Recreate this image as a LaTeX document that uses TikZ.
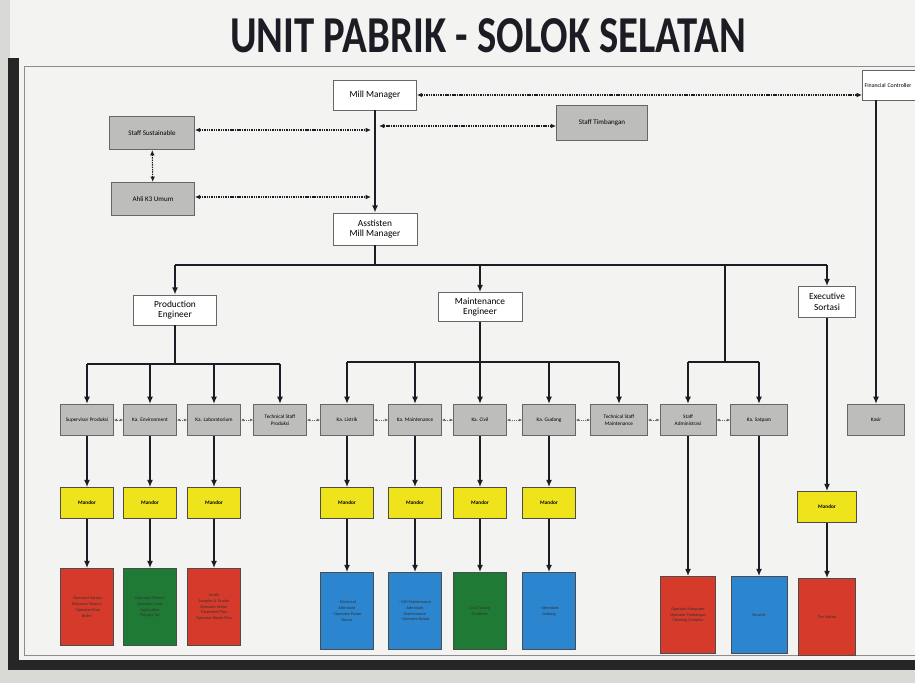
\documentclass[tikz,border=0pt]{standalone}
\usepackage{fontspec}
\setmainfont{Carlito}
\usetikzlibrary{arrows.meta}

\definecolor{wall}{HTML}{D9D9D6}
\definecolor{board}{HTML}{F3F3F1}
\definecolor{boxgray}{HTML}{BDBDBB}
\definecolor{mandor}{HTML}{EFE41C}
\definecolor{merah}{HTML}{D63A2A}
\definecolor{hijau}{HTML}{1F7A35}
\definecolor{biru}{HTML}{2B85CF}
\definecolor{ink}{HTML}{1C1C24}

\tikzset{
    box/.style={draw=black!60, line width=0.6pt, align=center, inner sep=1pt},
    wbox/.style={box, fill=white, minimum width=2.49cm, minimum height=0.9cm,
        font=\fontsize{8}{9}\selectfont},
    tgbox/.style={box, fill=boxgray, minimum width=2.55cm, minimum height=1cm,
        font=\fontsize{6}{7}\selectfont},
    gbox/.style={box, fill=boxgray, minimum width=1.59cm, minimum height=0.94cm,
        font=\fontsize{4.5}{5.5}\selectfont},
    mbox/.style={box, fill=mandor, draw=black!70, minimum width=1.6cm, minimum height=0.93cm,
        font=\fontsize{4.5}{5.5}\selectfont\bfseries},
    cbox/.style={box, fill=#1, draw=black!70, minimum width=1.59cm, minimum height=2.31cm,
        font=\fontsize{3.6}{5}\selectfont, text=black!80},
    ln/.style={line width=1.3pt, ink},
    arr/.style={ln, -{Latex[length=2.2mm, width=1.8mm]}},
    dbl/.style={line width=0.9pt, ink, dash pattern=on 1.2pt off 0.8pt,
        {Latex[length=1.6mm, width=1.4mm]}-{Latex[length=1.6mm, width=1.4mm]}},
    dbls/.style={line width=0.5pt, black!60, dash pattern=on 1pt off 0.8pt,
        {Latex[length=1mm, width=0.9mm]}-{Latex[length=1mm, width=0.9mm]}},
}

\begin{document}
\begin{tikzpicture}[x=0.03cm, y=-0.03cm]
    \useasboundingbox (0, 0) rectangle (915, 683);
    \clip (0, 0) rectangle (915, 683);

    % papan
    \fill[wall] (0, 0) rectangle (915, 683);
    \fill[board] (10, 0) rectangle (915, 662);
    \fill[black!85] (8, 58) rectangle (19, 670);
    \fill[black!85] (8, 660) rectangle (915, 670);
    \draw[black!45, line width=0.5pt] (24, 66) rectangle (930, 655);

    \node[text=ink] (title) at (488, 36)
        {\resizebox{440pt}{29pt}{\bfseries UNIT PABRIK - SOLOK SELATAN}};

    % pimpinan
    \node[wbox] (mm) at (375, 95) {Mill Manager};
    \node[wbox, anchor=west, text width=2.8cm, align=left, inner sep=2pt,
        font=\fontsize{5}{6}\selectfont] (fc) at (862, 85) {Financial Controller};
    \node[tgbox, minimum width=2.73cm, minimum height=1.05cm] (st) at (602, 123) {Staff Timbangan};
    \node[tgbox] (ss) at (152, 133) {Staff Sustainable};
    \node[tgbox, minimum width=2.49cm] (ak) at (153, 199) {Ahli K3 Umum};
    \node[wbox, minimum width=2.52cm, minimum height=0.96cm] (am) at (375, 229)
        {Asstisten\\Mill Manager};

    \coordinate (v1) at (371, 130);
    \coordinate (v2) at (379, 126);
    \coordinate (v3) at (371, 197);

    \draw[arr] (mm) -- (am);
    \draw[dbl] (mm.east) -- (mm.east -| fc.west);
    \draw[dbl] (ss.east |- v1) -- (v1);
    \draw[dbl] (v2) -- (v2 -| st.west);
    \draw[dbl] (ak.east |- v3) -- (v3);
    \draw[dbl] (ss) -- (ak);

    % kepala bagian
    \node[wbox, minimum width=2.49cm] (pe) at (175, 310) {Production\\Engineer};
    \node[wbox, minimum width=2.52cm, minimum height=0.87cm] (me) at (480, 307) {Maintenance\\Engineer};
    \node[wbox, minimum width=1.71cm, minimum height=0.93cm] (es) at (827, 302) {Executive\\Sortasi};

    \coordinate (b0) at (375, 265);
    \coordinate (b3) at (725, 265);
    \draw[ln] (am) -- (b0);
    \draw[ln] (b0 -| pe) -- (b0 -| es);
    \foreach \n in {pe, me, es}
        \draw[arr] (b0 -| \n) -- (\n);

    % baris kepala seksi
    \node[gbox] (sp)   at (87, 420)  {Supervisor Produksi};
    \node[gbox] (ken)  at (150, 420) {Ka. Environment};
    \node[gbox] (klab) at (214, 420) {Ka. Laboratorium};
    \node[gbox] (tsp)  at (280, 420) {Technical Staff\\Produksi};
    \node[gbox] (kl)   at (347, 420) {Ka. Listrik};
    \node[gbox] (kmt)  at (415, 420) {Ka. Maintenance};
    \node[gbox] (kc)   at (480, 420) {Ka. Civil};
    \node[gbox] (kg)   at (549, 420) {Ka. Gudang};
    \node[gbox, minimum width=1.71cm] (tsm) at (619, 420) {Technical Staff\\Maintenance};
    \node[gbox, minimum width=1.68cm] (sa)  at (688, 420) {Staff\\Administrasi};
    \node[gbox, minimum width=1.71cm] (ks)  at (759, 420) {Ka. Satpam};
    \node[gbox, minimum width=1.71cm] (kasir) at (876, 420) {Kasir};

    \foreach \a/\b in {sp/ken, ken/klab, klab/tsp, tsp/kl, kl/kmt, kmt/kc, kc/kg, kg/tsm, tsm/sa, sa/ks}
        \draw[dbls] (\a) -- (\b);

    \coordinate (s1) at (175, 364);
    \coordinate (s2) at (480, 362);
    \coordinate (s3) at (725, 362);

    \draw[ln] (pe) -- (s1);
    \draw[ln] (s1 -| sp) -- (s1 -| tsp);
    \foreach \n in {sp, ken, klab, tsp}
        \draw[arr] (s1 -| \n) -- (\n);

    \draw[ln] (me) -- (s2);
    \draw[ln] (s2 -| kl) -- (s2 -| tsm);
    \foreach \n in {kl, kmt, kc, kg, tsm}
        \draw[arr] (s2 -| \n) -- (\n);

    \draw[ln] (b3) -- (s3);
    \draw[ln] (s3 -| sa) -- (s3 -| ks);
    \foreach \n in {sa, ks}
        \draw[arr] (s3 -| \n) -- (\n);

    \draw[arr] (fc.south -| kasir) -- (kasir);

    % mandor
    \foreach \n in {sp, ken, klab, kl, kmt, kc, kg}
        \node[mbox] (m-\n) at (\n |- 0, 503) {Mandor};
    \node[mbox, minimum width=1.77cm] (m-es) at (827, 507) {Mandor};

    \foreach \n in {sp, ken, klab, kl, kmt, kc, kg, es}
        \draw[arr] (\n) -- (m-\n);

    % pelaksana
    \node[cbox=merah] (c-sp)   at (87, 607)  {- Operator Stasiun\\Rebusan/ Stasiun\\- Operator Kran\\Boiler};
    \node[cbox=hijau] (c-ken)  at (150, 607) {Operator Effluent\\Operator Land\\Application\\Petugas Tps};
    \node[cbox=merah] (c-klab) at (214, 607) {Analis\\Sampler \& Grader\\Operator Water\\Treatment Plan\\Operator Waste Plan};
    \node[cbox=biru]  (c-kl)   at (347, 611) {- Electrical\\Attendant\\- Operator Power\\House};
    \node[cbox=biru]  (c-kmt)  at (415, 611) {- Mill Maintenance\\Attendant\\Maintenance\\- Operator Bubut};
    \node[cbox=hijau] (c-kc)   at (480, 611) {Civil Tukang\\Gardener};
    \node[cbox=biru]  (c-kg)   at (549, 611) {- Attendant\\Gudang};
    \node[cbox=merah, minimum width=1.65cm] (c-sa) at (688, 615) {Operator Komputer\\Operator Timbangan\\Cleaning Complex};
    \node[cbox=biru, minimum width=1.68cm]  (c-ks) at (759, 615) {Security};
    \node[cbox=merah, minimum width=1.71cm] (c-es) at (827, 617) {Tim Sortasi};

    \foreach \n in {sp, ken, klab, kl, kmt, kc, kg, es}
        \draw[arr] (m-\n) -- (c-\n);
    \foreach \n in {sa, ks}
        \draw[arr] (\n) -- (c-\n);
\end{tikzpicture}
\end{document}
